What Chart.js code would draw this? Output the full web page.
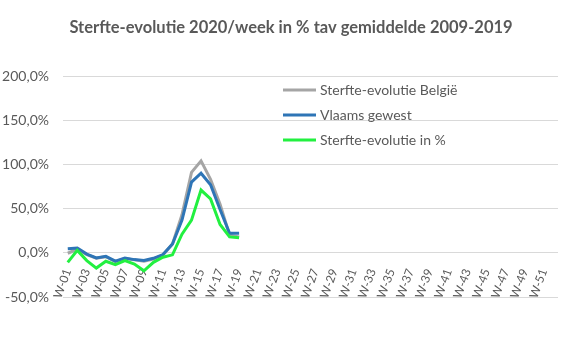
<!DOCTYPE html>
<html>
<head>
<meta charset="utf-8">
<script src="https://cdn.jsdelivr.net/npm/chart.js@4"></script>
<style>
  html, body { margin: 0; padding: 0; background: #fff; }
  #wrap { width: 585px; height: 360px; }
</style>
</head>
<body>
<div id="wrap"><canvas id="wykres" width="585" height="360"></canvas></div>
<script>
// weken W-01 .. W-52
const weken = Array.from({ length: 52 }, (_, i) => 'W-' + String(i + 1).padStart(2, '0'));

// waarden in %, W-01 .. W-19
const belgie = [-0.5, 4, -2, -6, -4.5, -10, -6.5, -8, -9.5, -7, -2.5, 10, 43, 91, 104, 83, 55, 20, 18];
const vlaams = [4.6, 5.4, -1.5, -5.8, -4, -9.5, -6, -7.7, -8.8, -6.2, -2, 10, 37, 80, 90, 77, 49, 22, 22];
const procent = [-10.8, 2.7, -8.8, -17.3, -9.6, -13.5, -8.8, -12.7, -20.4, -10.8, -5, -2.3, 21, 37, 71, 61, 32, 18, 17];

const reeksen = ['Sterfte-evolutie België', 'Vlaams gewest', 'Sterfte-evolutie in %'];
const kleuren = ['#A5A5A5', '#2E75B6', '#22F040'];

const tekstKleur = '#595959';
const font = 'Lato';

// Legende in het plotgebied
const legendaPlugin = {
  id: 'legenda',
  afterDraw(chart) {
    const ctx = chart.ctx;
    ctx.save();
    ctx.font = '14px ' + font;
    ctx.textBaseline = 'middle';
    reeksen.forEach((naam, i) => {
      const y = 90 + i * 25;
      ctx.strokeStyle = kleuren[i];
      ctx.lineWidth = 3;
      ctx.beginPath();
      ctx.moveTo(283, y);
      ctx.lineTo(316, y);
      ctx.stroke();
      ctx.fillStyle = tekstKleur;
      ctx.fillText(naam, 320, y);
    });
    ctx.restore();
  }
};

const ctx = document.getElementById('wykres').getContext('2d');
new Chart(ctx, {
  type: 'line',
  data: {
    labels: weken,
    datasets: [
      { label: reeksen[0], data: belgie, borderColor: kleuren[0], order: 3 },
      { label: reeksen[1], data: vlaams, borderColor: kleuren[1], order: 2 },
      { label: reeksen[2], data: procent, borderColor: kleuren[2], order: 1 }
    ]
  },
  options: {
    responsive: false,
    animation: false,
    layout: { padding: { top: 10, left: 0, right: 3, bottom: 63 } },
    elements: {
      point: { radius: 0 },
      line: { borderWidth: 3, tension: 0, fill: false }
    },
    plugins: {
      legend: { display: false },
      tooltip: { enabled: false },
      title: {
        display: true,
        text: 'Sterfte-evolutie 2020/week in % tav gemiddelde 2009-2019',
        color: tekstKleur,
        font: { family: font, size: 16.5, weight: 'bold', lineHeight: 1.2 },
        padding: { top: 8, bottom: 38.2 }
      }
    },
    scales: {
      x: {
        position: { y: 0 },
        offset: true,
        grid: { display: false },
        border: { display: false },
        ticks: {
          autoSkip: false,
          maxRotation: 70,
          minRotation: 70,
          padding: 6,
          color: tekstKleur,
          font: { family: font, size: 12 },
          callback: (v, i) => (i % 2 === 0 ? weken[i] : null)
        }
      },
      y: {
        min: -50,
        max: 200,
        afterFit: (s) => { s.width = 63; },
        grid: { color: '#D9D9D9', lineWidth: 1, drawTicks: false },
        border: { display: false },
        ticks: {
          stepSize: 50,
          padding: 14,
          color: tekstKleur,
          font: { family: font, size: 14 },
          callback: (v) => v.toFixed(1).replace('.', ',') + '%'
        }
      },
      // lege as rechts, alleen voor de ruimte
      rechts: {
        position: 'right',
        afterFit: (s) => { s.width = 24; },
        grid: { display: false },
        border: { display: false },
        ticks: { display: false }
      }
    }
  },
  plugins: [legendaPlugin]
});
</script>
</body>
</html>
